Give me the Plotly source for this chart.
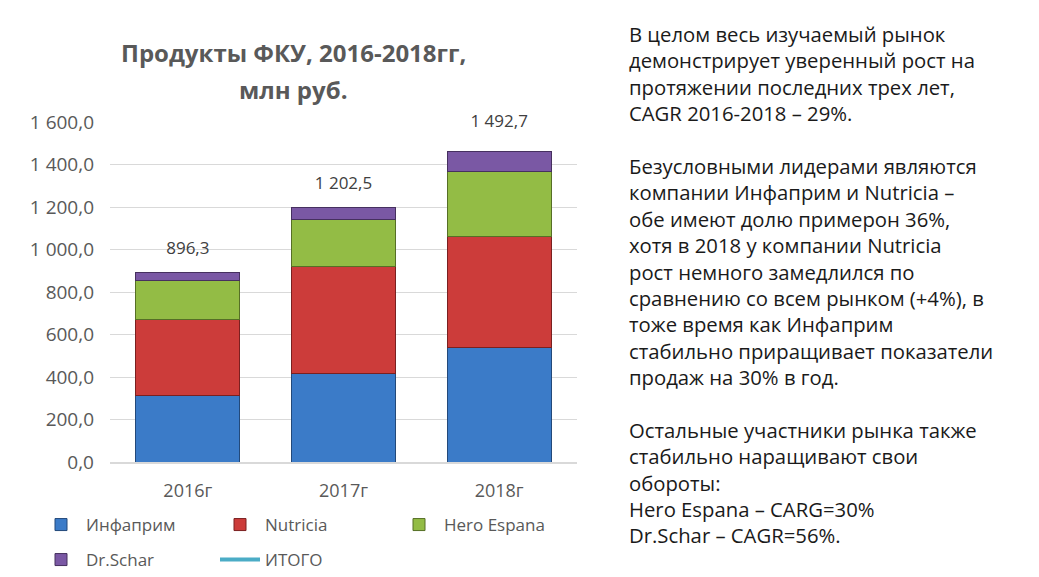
import plotly.graph_objects as go

# === Данные === #
years = ["2016г", "2017г", "2018г"]
infaprim = [314, 416, 540]
nutricia = [358, 502, 519]
hero = [180, 224, 306]
schar = [39, 55, 94]
itogo = [896.3, 1202.5, 1492.7]
itogo_lbl = ["896,3", "1 202,5", "1 492,7"]

text_lines = [
    "В целом весь изучаемый рынок",
    "демонстрирует уверенный рост на",
    "протяжении последних трех лет,",
    "CAGR 2016-2018 – 29%.",
    "",
    "Безусловными лидерами являются",
    "компании Инфаприм и Nutricia –",
    "обе имеют долю примерон 36%,",
    "хотя в 2018 у компании Nutricia",
    "рост немного замедлился по",
    "сравнению со всем рынком (+4%), в",
    "тоже время как Инфаприм",
    "стабильно приращивает показатели",
    "продаж на 30% в год.",
    "",
    "Остальные участники рынка также",
    "стабильно наращивают свои",
    "обороты:",
    "Hero Espana – CARG=30%",
    "Dr.Schar – CAGR=56%.",
]

# === Геометрия (пиксели экрана; страница сдвинута на 8px отступом body) === #
OFF = 8
W, H = 1039, 577
L, R, T, B = 110 - OFF, 577 - OFF, 122 - OFF, 462 - OFF


def px_x(px):
    return (px - OFF - L) / (R - L)


def px_y(py):
    return (B - (py - OFF)) / (B - T)


FONT = "Open Sans"

fig = go.Figure()

series = [
    ("Инфаприм", infaprim, "#3b7bc8", "#23497a", "legend"),
    ("Nutricia", nutricia, "#cc3c3a", "#7a2020", "legend"),
    ("Hero Espana", hero, "#93bc45", "#566f26", "legend"),
    ("Dr.Schar", schar, "#7a58a4", "#46305f", "legend2"),
]
for name, vals, col, edge, lg in series:
    fig.add_trace(go.Bar(
        x=years, y=vals, name=name, legend=lg,
        marker=dict(color=col, line=dict(color=edge, width=1)),
    ))

# ИТОГО: подписи и элемент легенды
fig.add_trace(go.Scatter(
    x=years, y=itogo, mode="markers+text",
    text=itogo_lbl, textposition="top center",
    textfont=dict(size=17, color="#404040", family=FONT),
    marker=dict(size=20, opacity=0),
    cliponaxis=False,
    showlegend=False, hoverinfo="skip",
))
fig.add_trace(go.Scatter(
    x=years, y=[None, None, None], mode="lines",
    name="ИТОГО", legend="legend2",
    line=dict(color="#4bacc6", width=4),
))

annotations = []
# заголовок
for txt, py in [("Продукты ФКУ, 2016-2018гг,", 52), ("млн руб.", 90)]:
    annotations.append(dict(
        text="<b>%s</b>" % txt, xref="paper", yref="paper",
        x=px_x(293), y=px_y(py), xanchor="center", yanchor="middle",
        showarrow=False, font=dict(size=24, color="#595959", family=FONT),
    ))

# текст справа (одним блоком, межстрочный интервал ~26px)
annotations.append(dict(
    text="<br>".join(text_lines), xref="paper", yref="paper",
    x=px_x(627), y=px_y(18), xanchor="left", yanchor="top", align="left",
    showarrow=False, font=dict(size=20.3, color="#1a1a1a", family=FONT),
))

leg_common = dict(
    orientation="h", xanchor="left", yanchor="middle",
    entrywidth=124, entrywidthmode="pixels",
    font=dict(size=17, color="#595959", family=FONT),
    traceorder="normal", itemwidth=40, bgcolor="rgba(0,0,0,0)",
)

fig.update_layout(
    barmode="stack",
    bargap=0.333,
    width=W, height=H,
    margin=dict(l=L, r=W - R, t=T, b=H - B, pad=0, autoexpand=False),
    separators=", ",
    plot_bgcolor="white",
    paper_bgcolor="white",
    font=dict(family=FONT, color="#595959"),
    xaxis=dict(
        showgrid=False, showline=True, linecolor="#d9d9d9", linewidth=2,
        ticks="", tickfont=dict(size=18, color="#595959"),
        ticklabelstandoff=11,
    ),
    yaxis=dict(
        range=[0, 1600], dtick=200, tickformat=",.1f",
        showgrid=True, gridcolor="#d9d9d9", gridwidth=1,
        zeroline=False, ticks="",
        tickfont=dict(size=19, color="#595959"),
        ticklabelstandoff=15,
    ),
    showlegend=True,
    legend=dict(x=px_x(36), y=px_y(525), **leg_common),
    legend2=dict(x=px_x(36), y=px_y(560), **leg_common),
    annotations=annotations,
)

fig.write_html("out.html")
